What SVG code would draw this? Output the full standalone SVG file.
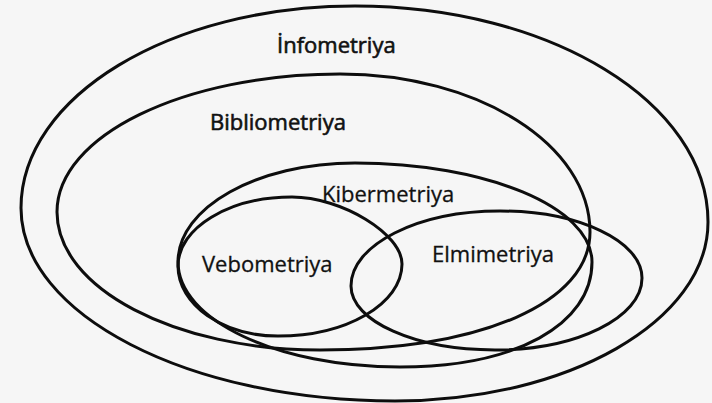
<svg xmlns="http://www.w3.org/2000/svg" width="712" height="403" viewBox="0 0 712 403">
<style>
.ring{fill:none;stroke:#0d0d0d;stroke-width:3;stroke-linejoin:round}
.lbl{font-family:"Open Sans","Liberation Sans",sans-serif;font-size:22px;fill:#111;stroke:#111;stroke-width:0.3}
.strong{stroke-width:0.6}
</style>
<rect width="712" height="403" fill="#f6f6f6"/>
<g id="connectors"/>
<g id="infometriya">
<path class="ring" d="M21,208 C21,96.4 170.5,6 355,6 C550,6 708,102.7 708,222 C708,320.9 567.9,401 395,401 C188.4,401 21,314.6 21,208 Z"/>
<text class="lbl strong" x="277" y="53">İnfometriya</text>
</g>
<g id="bibliometriya">
<path class="ring" d="M57,212 C57,135.8 183.7,74 340,74 C478.1,74 590,144.7 590,232 C590,302.8 482,350 320,350 C174.7,350 57,288.2 57,212 Z"/>
<text class="lbl strong" x="210" y="130">Bibliometriya</text>
</g>
<g id="kibermetriya">
<path class="ring" d="M178,262 C178,207.3 257.2,163 355,163 C485.9,163 592,207.3 592,262 C592,325 515.2,367 400,367 C277.4,367 178,320 178,262 Z"/>
<text class="lbl" x="322" y="202">Kibermetriya</text>
</g>
<g id="vebometriya">
<path class="ring" d="M178,266 C178,227.9 229,197 292,197 C341.5,197 402,233.9 402,264 C402,303.8 346.5,336 278,336 C222.8,336 178,304.7 178,266 Z"/>
<text class="lbl" x="202" y="272">Vebometriya</text>
</g>
<g id="elmimetriya">
<path class="ring" d="M351,286 C351,244.6 417.7,211 500,211 C578.4,211 642,241 642,278 C642,317.8 576.2,350 495,350 C415.5,350 351,321.3 351,286 Z"/>
<text class="lbl" x="432" y="262">Elmimetriya</text>
</g>
</svg>
